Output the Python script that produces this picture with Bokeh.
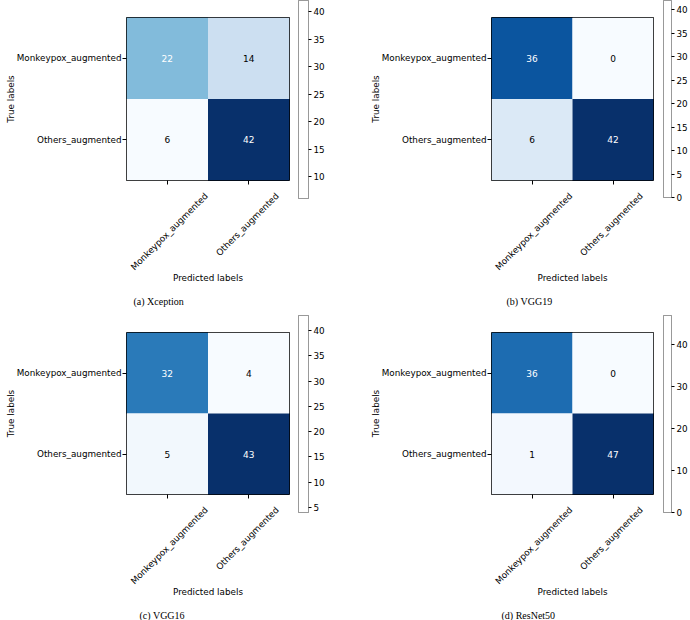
import numpy as np
from bokeh.plotting import figure
from bokeh.models import (ColumnDataSource, LinearColorMapper, LinearAxis,
                          FixedTicker, Range1d)
from bokeh.layouts import row, column
from bokeh.palettes import Blues9
from bokeh.core.properties import value
from bokeh.embed import file_html
from bokeh.resources import INLINE

# ---------------- data ----------------
class_labels = ["Monkeypox_augmented", "Others_augmented"]
captions = ["(a) Xception", "(b) VGG19", "(c) VGG16", "(d) ResNet50"]

cm_xception = [[22, 14], [6, 42]]
cm_vgg19 = [[36, 0], [6, 42]]
cm_vgg16 = [[32, 4], [5, 43]]
cm_resnet50 = [[36, 0], [1, 47]]

cbar_ticks_xception = [10, 15, 20, 25, 30, 35, 40]
cbar_ticks_vgg19 = [0, 5, 10, 15, 20, 25, 30, 35, 40]
cbar_ticks_vgg16 = [5, 10, 15, 20, 25, 30, 35, 40]
cbar_ticks_resnet50 = [0, 10, 20, 30, 40]

# ---------------- styling ----------------
FONT = "DejaVu Sans"
FS = "8.8px"


def blues_palette(n=256):
    anchors = list(reversed(Blues9))
    rgb = np.array([[int(c[i:i + 2], 16) for i in (1, 3, 5)] for c in anchors], float)
    pos = np.linspace(0, 1, len(anchors))
    out = []
    for t in np.linspace(0, 1, n):
        r = [np.interp(t, pos, rgb[:, k]) for k in range(3)]
        out.append("#%02x%02x%02x" % tuple(int(round(v)) for v in r))
    return out


PALETTE = blues_palette()


def make_panel(cm, caption, cb_ticks, m_w, m_left, m_top, f_w, f_h,
               cb_w, cb_top, cb_h, cap_x, fig_h, cap_h, cap_y):
    cm = np.array(cm)
    vmin, vmax = int(cm.min()), int(cm.max())
    thresh = vmax / 2.0
    xs, ys, vals, txt, tcol = [], [], [], [], []
    for i in range(2):
        for j in range(2):
            xs.append(j)
            ys.append(1 - i)
            vals.append(int(cm[i, j]))
            txt.append(str(cm[i, j]))
            tcol.append("white" if cm[i, j] > thresh else "black")
    src = ColumnDataSource(dict(x=xs, y=ys, v=vals, t=txt, c=tcol))
    mapper = LinearColorMapper(palette=PALETTE, low=vmin, high=vmax)

    W, H = m_w, fig_h
    p = figure(width=W, height=H, x_range=Range1d(-0.5, 1.5), y_range=Range1d(-0.5, 1.5),
               x_axis_location=None, toolbar_location=None, output_backend="svg",
               min_border=0, min_border_left=m_left, min_border_top=m_top,
               min_border_right=W - m_left - f_w, min_border_bottom=H - m_top - f_h,
               frame_align=False)
    p.rect(x="x", y="y", width=1, height=1, source=src,
           fill_color={"field": "v", "transform": mapper}, line_color=None)
    p.text(x="x", y="y", text="t", text_color="c", source=src,
           text_align="center", text_baseline="middle",
           text_font=value(FONT), text_font_size="9px")
    p.grid.visible = False
    p.outline_line_color = "black"
    p.outline_line_width = 1
    p.background_fill_color = "white"
    p.border_fill_color = "white"

    # y axis
    ya = p.yaxis[0]
    ya.ticker = FixedTicker(ticks=[0, 1])
    ya.major_label_overrides = {1: class_labels[0], 0: class_labels[1]}
    ya.axis_label = "True labels"
    ya.axis_line_color = None
    ya.major_tick_out = 4
    ya.major_tick_in = 0
    ya.major_tick_line_color = "black"
    ya.major_label_standoff = 1
    ya.axis_label_standoff = -2
    ya.major_label_text_font = FONT
    ya.major_label_text_font_size = FS
    ya.major_label_text_color = "black"
    ya.axis_label_text_font = FONT
    ya.axis_label_text_font_size = FS
    ya.axis_label_text_font_style = "normal"
    ya.axis_label_text_color = "black"

    # x axis (ticks at cell centres, labels rotated & centred under ticks)
    xshift = [0.48, 0.35]
    lab_ticks = [k + xshift[k] for k in range(2)]
    xa = LinearAxis(ticker=FixedTicker(ticks=lab_ticks, minor_ticks=[0, 1]),
                    major_label_overrides={t: lab for t, lab in zip(lab_ticks, class_labels)},
                    major_label_orientation=np.pi / 4,
                    major_tick_out=0, major_tick_in=0,
                    minor_tick_out=4, minor_tick_in=0, minor_tick_line_color="black",
                    axis_line_color=None,
                    major_label_standoff=10,
                    axis_label="Predicted labels", axis_label_standoff=-6,
                    major_label_text_font=FONT, major_label_text_font_size=FS,
                    major_label_text_color="black",
                    axis_label_text_font=FONT, axis_label_text_font_size=FS,
                    axis_label_text_font_style="normal", axis_label_text_color="black")
    p.add_layout(xa, "below")

    # colour bar
    CL, CF = 5, 10
    c = figure(width=cb_w, height=H, x_range=Range1d(0, 1), y_range=Range1d(vmin, vmax),
               x_axis_location=None, y_axis_location="right",
               toolbar_location=None, output_backend="svg", frame_align=False,
               min_border=0, min_border_left=CL, min_border_right=cb_w - CL - CF,
               min_border_top=cb_top, min_border_bottom=H - cb_top - cb_h)
    c.quad(left=0, right=1, bottom=vmin, top=vmax, fill_color="white", line_color=None)
    c.grid.visible = False
    c.outline_line_color = "#777777"
    c.outline_line_width = 1
    ca = c.yaxis[0]
    ca.ticker = FixedTicker(ticks=cb_ticks)
    ca.axis_line_color = None
    ca.major_tick_out = 3
    ca.major_tick_in = 0
    ca.major_tick_line_color = "black"
    ca.minor_tick_line_color = None
    ca.major_label_standoff = 2
    ca.major_label_text_font = FONT
    ca.major_label_text_font_size = FS
    ca.major_label_text_color = "black"

    # caption strip under the panel
    PW = m_w + cb_w
    cap = figure(width=PW, height=cap_h, x_range=Range1d(0, PW), y_range=Range1d(0, cap_h),
                 x_axis_location=None, y_axis_location=None, toolbar_location=None,
                 output_backend="svg", frame_align=False, min_border=0)
    cap.grid.visible = False
    cap.outline_line_color = None
    cap.text(x=[cap_x], y=[cap_y], text=[caption], text_align="left",
             text_baseline="middle", text_color="black",
             text_font=value("Liberation Serif"), text_font_size="10px")

    return column(row(p, c), cap)


pa = make_panel(cm_xception, captions[0], cbar_ticks_xception,
                293, 126, 17, 163, 163, 52, 0, 198, 133, 292, 18, 9)
pb = make_panel(cm_vgg19, captions[1], cbar_ticks_vgg19,
                313, 146, 17, 162, 163, 32, 0, 197, 161, 292, 18, 9)
pc = make_panel(cm_vgg16, captions[2], cbar_ticks_vgg16,
                293, 126, 22, 163, 162, 52, 5, 197, 139, 298, 12, 5)
pd = make_panel(cm_resnet50, captions[3], cbar_ticks_resnet50,
                313, 146, 22, 162, 162, 32, 5, 197, 156, 298, 12, 5)

layout = column(row(pa, pb), row(pc, pd))
open("out.html", "w").write(file_html(layout, INLINE))
